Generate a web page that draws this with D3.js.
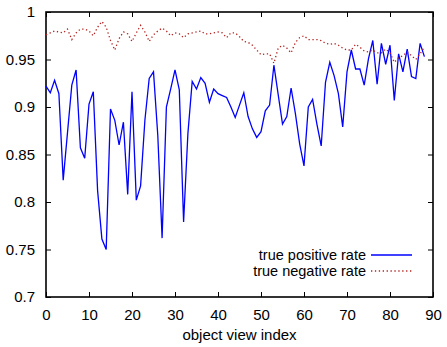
<!DOCTYPE html>
<meta charset="utf-8">
<script src="https://d3js.org/d3.v7.min.js"></script>
<style>
  body { margin: 0; background: #fff; }
  text { font-family: "Liberation Sans", Arial, sans-serif; font-size: 15px; fill: #000; }
</style>
<div id="my_dataviz"></div>
<script>

// true positive rate per object view (index 0..88)
var tpr = [0.922, 0.915, 0.928, 0.914, 0.823, 0.873, 0.923, 0.939, 0.857, 0.846,
           0.903, 0.916, 0.812, 0.761, 0.750, 0.898, 0.886, 0.860, 0.884, 0.808,
           0.916, 0.802, 0.817, 0.886, 0.930, 0.937, 0.870, 0.762, 0.900, 0.919,
           0.939, 0.918, 0.779, 0.872, 0.927, 0.919, 0.931, 0.925, 0.905, 0.919,
           0.914, 0.912, 0.910, 0.900, 0.889, 0.902, 0.915, 0.890, 0.877, 0.868,
           0.874, 0.896, 0.902, 0.944, 0.913, 0.882, 0.890, 0.920, 0.893, 0.861,
           0.838, 0.900, 0.908, 0.882, 0.859, 0.926, 0.947, 0.933, 0.914, 0.879,
           0.937, 0.960, 0.940, 0.940, 0.923, 0.951, 0.970, 0.924, 0.967, 0.945,
           0.965, 0.907, 0.956, 0.937, 0.961, 0.932, 0.930, 0.967, 0.953];

// true negative rate per object view
var tnr = [0.976, 0.978, 0.980, 0.979, 0.978, 0.982, 0.971, 0.978, 0.982, 0.982,
           0.980, 0.975, 0.984, 0.990, 0.984, 0.970, 0.960, 0.972, 0.979, 0.977,
           0.969, 0.978, 0.986, 0.979, 0.969, 0.976, 0.980, 0.983, 0.980, 0.975,
           0.978, 0.977, 0.973, 0.977, 0.978, 0.979, 0.980, 0.977, 0.977, 0.978,
           0.979, 0.978, 0.973, 0.978, 0.978, 0.974, 0.969, 0.968, 0.965, 0.960,
           0.955, 0.956, 0.956, 0.946, 0.962, 0.965, 0.962, 0.957, 0.968, 0.973,
           0.975, 0.971, 0.971, 0.971, 0.970, 0.967, 0.966, 0.967, 0.965, 0.962,
           0.960, 0.960, 0.966, 0.963, 0.959, 0.958, 0.960, 0.957, 0.957, 0.961,
           0.957, 0.947, 0.952, 0.954, 0.958, 0.954, 0.950, 0.956, 0.963];

var xTicks = [0, 10, 20, 30, 40, 50, 60, 70, 80, 90];
var yTicks = [0.7, 0.75, 0.8, 0.85, 0.9, 0.95, 1];
var seriesNames = ["true positive rate", "true negative rate"];

var W = 447, H = 347;
var margin = {top: 12, right: 14, bottom: 50, left: 46};
var width = W - margin.left - margin.right,
    height = H - margin.top - margin.bottom;

var svg = d3.select("#my_dataviz")
  .append("svg")
    .attr("width", W)
    .attr("height", H)
  .append("g")
    .attr("transform", "translate(" + margin.left + "," + margin.top + ")");

var x = d3.scaleLinear().domain([0, 90]).range([0, width]);
var y = d3.scaleLinear().domain([0.7, 1]).range([height, 0]);

// ticks on all four sides, pointing inward (gnuplot style)
var tickLen = 5;
svg.append("g").attr("transform", "translate(0," + height + ")")
  .call(d3.axisBottom(x).tickValues(xTicks).tickSize(-tickLen).tickPadding(12).tickFormat(d3.format("d")));
svg.append("g")
  .call(d3.axisTop(x).tickValues(xTicks).tickSize(-tickLen).tickFormat(""));
svg.append("g")
  .call(d3.axisLeft(y).tickValues(yTicks).tickSize(-tickLen).tickPadding(11).tickFormat(d3.format("")));
svg.append("g").attr("transform", "translate(" + width + ",0)")
  .call(d3.axisRight(y).tickValues(yTicks).tickSize(-tickLen).tickFormat(""));

svg.selectAll(".domain").remove();
svg.selectAll(".tick line").attr("stroke", "#000").attr("stroke-width", 1);
svg.selectAll(".tick text").style("font-size", "15px").style("font-family", "'Liberation Sans', Arial, sans-serif");

// border
svg.append("rect")
  .attr("width", width).attr("height", height)
  .attr("fill", "none").attr("stroke", "#000").attr("stroke-width", 1.6);

var line = d3.line()
  .x(function(d, i) { return x(i); })
  .y(function(d) { return y(d); });

svg.append("path").datum(tpr)
  .attr("d", line)
  .attr("fill", "none")
  .attr("stroke", "#0000ff")
  .attr("stroke-width", 1.3)
  .attr("stroke-linejoin", "miter");

svg.append("path").datum(tnr)
  .attr("d", line)
  .attr("fill", "none")
  .attr("stroke", "#b22222")
  .attr("stroke-width", 1.3)
  .attr("stroke-dasharray", "1.3,2.6");

// legend
var legX = 320, legY = 243;
var legend = svg.append("g");
seriesNames.forEach(function(name, i) {
  var yy = legY + i * 16;
  legend.append("text")
    .attr("x", legX).attr("y", yy + 5)
    .attr("text-anchor", "end")
    .style("font-size", "14.5px")
    .text(name);
  var ln = legend.append("line")
    .attr("x1", legX + 5).attr("x2", legX + 46)
    .attr("y1", yy).attr("y2", yy)
    .attr("stroke-width", 1.3);
  if (i === 0) ln.attr("stroke", "#0000ff");
  else ln.attr("stroke", "#b22222").attr("stroke-dasharray", "1.3,2.6");
});

// axis label
svg.append("text")
  .attr("x", width / 2).attr("y", height + 43)
  .attr("text-anchor", "middle")
  .text("object view index");

</script>
